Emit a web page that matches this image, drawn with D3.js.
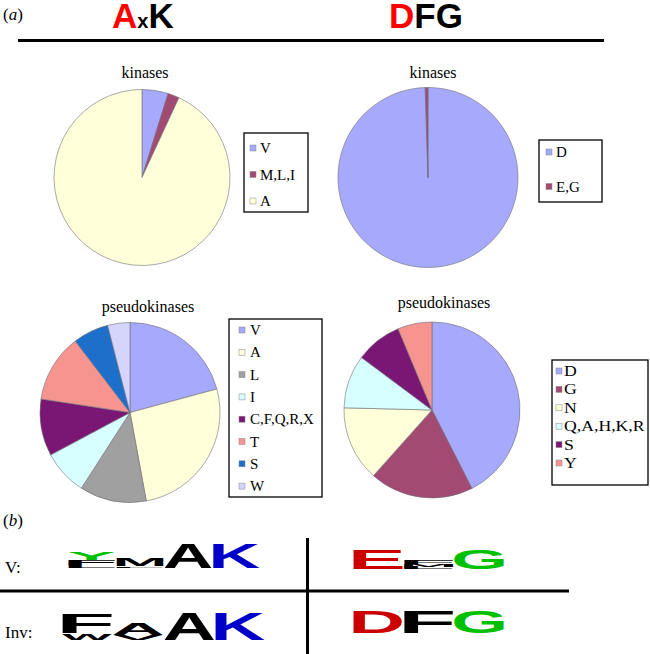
<!DOCTYPE html>
<html><head><meta charset="utf-8">
<script src="https://cdn.jsdelivr.net/npm/d3@7"></script>
<style>body{margin:0;background:#fff}svg{display:block}</style>
</head><body>
<svg id="c" width="650" height="654"></svg>
<script>
// ---------- data ----------
const axkKinLabels = ["V", "M,L,I", "A"];
const axkKinValues = [4.8, 2.1, 93.1];
const dfgKinLabels = ["D", "E,G"];
const dfgKinValues = [99.5, 0.5];
const axkPseudoLabels = ["V", "A", "L", "I", "C,F,Q,R,X", "T", "S", "W"];
const axkPseudoValues = [20.8, 26.3, 12.0, 8.1, 10.2, 12.2, 6.4, 4.0];
const dfgPseudoLabels = ["D", "G", "N", "Q,A,H,K,R", "S", "Y"];
const dfgPseudoValues = [42.5, 19.1, 13.8, 9.8, 8.5, 6.3];

// sequence logos: columns, each a stack [letter, bits] from bottom to top
const logoRowLabels = ["V:", "Inv:"];
const axkLogoV   = [[["L",0.5],["F",0.8],["Y",1.3]], [["L",0.25],["M",1.15]], [["A",3.9]], [["K",3.9]]];
const axkLogoInv = [[["W",1.1],["F",3.2]], [["V",0.8],["A",1.8]], [["A",4.35]], [["K",4.35]]];
const dfgLogoV   = [[["E",3.1]], [["L",0.4],["M",0.45],["F",0.6]], [["G",3.1]]];
const dfgLogoInv = [[["D",3.55]], [["F",3.55]], [["G",3.55]]];

// ---------- styles ----------
const sliceColors = {
  "V":"#a6a9fc","M,L,I":"#a34a73","A":"#ffffd9","D":"#a6a9fc","E,G":"#a34a73",
  "L":"#a0a0a0","I":"#d7ffff","C,F,Q,R,X":"#7a1774","T":"#f69490","S":"#1e6fca","W":"#d5d5fb"
};
const pseudoDfgColors = {"D":"#a6a9fc","G":"#a34a73","N":"#ffffd9","Q,A,H,K,R":"#d7ffff","S":"#7a1774","Y":"#f69490"};
const logoColors = {A:"#000",K:"#0000c8",Y:"#00c000",E:"#cc0000",D:"#cc0000",G:"#00c000",F:"#000",M:"#000",L:"#000",W:"#000",V:"#000"};

const svg = d3.select("#c");
const serif = '"Liberation Serif","Times New Roman",serif';
const sans = '"Liberation Sans",Arial,sans-serif';

// ---------- header ----------
svg.append("text").attr("x",3).attr("y",20).attr("font-family",serif).attr("font-size",17)
  .html('(<tspan font-style="italic">a</tspan>)');
function header(x, parts){
  const t = svg.append("text").attr("x",x).attr("y",28).attr("font-family",sans).attr("font-weight","bold");
  parts.forEach(p => t.append("tspan").text(p[0]).attr("fill",p[1]).attr("font-size",p[2]));
}
header(112, [["A","#ff0000",35],["x","#000",20],["K","#000",35]]);
header(389, [["D","#ff0000",35],["F","#000",35],["G","#000",35]]);
svg.append("line").attr("x1",18).attr("x2",604).attr("y1",40.5).attr("y2",40.5).attr("stroke","#000").attr("stroke-width",3);

// ---------- pies ----------
function drawPie(o){
  const g = svg.append("g").attr("transform",`translate(${o.cx},${o.cy})`);
  const data = o.labels.map((l,i)=>({label:l, value:o.values[i]}));
  const pie = d3.pie().sort(null).value(d=>d.value);
  const arc = d3.arc().innerRadius(0).outerRadius(o.r);
  g.selectAll("path").data(pie(data)).join("path")
    .attr("d",arc).attr("fill",d=>o.colors[d.data.label])
    .attr("stroke","#6e6e78").attr("stroke-width",0.6);
  svg.append("text").attr("x",o.tx).attr("y",o.ty).attr("text-anchor","middle")
    .attr("font-family",serif).attr("font-size",16).text(o.title);
  const L = o.legend;
  svg.append("rect").attr("x",L.x).attr("y",L.y).attr("width",L.w).attr("height",L.h)
    .attr("fill","#fff").attr("stroke","#000").attr("stroke-width",1.3);
  const items = svg.append("g");
  const sx = L.sx || 1;
  data.forEach((d,i)=>{
    const yc = L.first + i*L.step;
    items.append("rect").attr("x",L.mx).attr("y",yc-3).attr("width",6).attr("height",6)
      .attr("fill",o.colors[d.label]).attr("stroke","#888").attr("stroke-width",0.5);
    items.append("text").attr("transform",`translate(${L.tx},${yc+5}) scale(${sx},1)`)
      .attr("font-family",serif).attr("font-size",15).text(d.label);
  });
}
drawPie({labels:axkKinLabels, values:axkKinValues, colors:sliceColors, cx:142, cy:177.5, r:88,
  title:"kinases", tx:145, ty:78, legend:{x:244,y:133,w:64,h:79,first:148,step:26.5,mx:250,tx:260}});
drawPie({labels:dfgKinLabels, values:dfgKinValues, colors:sliceColors, cx:428, cy:177.5, r:90,
  title:"kinases", tx:433, ty:78, legend:{x:539,y:140,w:63,h:62,first:152,step:34.5,mx:546,tx:556}});
drawPie({labels:axkPseudoLabels, values:axkPseudoValues, colors:sliceColors, cx:130, cy:412.5, r:90,
  title:"pseudokinases", tx:148, ty:312, legend:{x:229,y:319,w:93,h:178,first:330,step:22.3,mx:239,tx:250}});
drawPie({labels:dfgPseudoLabels, values:dfgPseudoValues, colors:pseudoDfgColors, cx:432, cy:410, r:88,
  title:"pseudokinases", tx:444, ty:308, legend:{x:552,y:360,w:96,h:125,first:371,step:18.4,mx:556,tx:564,sx:1.18}});

// ---------- (b) sequence logos ----------
svg.append("text").attr("x",3).attr("y",526).attr("font-family",serif).attr("font-size",17)
  .html('(<tspan font-style="italic">b</tspan>)');
svg.append("text").attr("x",5).attr("y",573).attr("font-family",serif).attr("font-size",17).text(logoRowLabels[0]);
svg.append("text").attr("x",5).attr("y",638).attr("font-family",serif).attr("font-size",17).text(logoRowLabels[1]);
svg.append("line").attr("x1",0).attr("x2",569).attr("y1",591).attr("y2",591).attr("stroke","#000").attr("stroke-width",3);
svg.append("line").attr("x1",307.5).attr("x2",307.5).attr("y1",538).attr("y2",654).attr("stroke","#000").attr("stroke-width",3);

const ctx = document.createElement("canvas").getContext("2d");
ctx.font = 'bold 100px "Liberation Sans"';
function glyph(ch){ const m = ctx.measureText(ch);
  return {l:m.actualBoundingBoxLeft, r:m.actualBoundingBoxRight, a:m.actualBoundingBoxAscent, d:m.actualBoundingBoxDescent}; }
const bitScale = d3.scaleLinear().domain([0, 4.32]).range([0, 26.8]);
function drawLogo(cols, x0, colW, baseline){
  const xs = d3.scaleBand().domain(d3.range(cols.length)).range([x0, x0 + colW*cols.length]).paddingInner(0.02);
  const g = svg.append("g");
  cols.forEach((stack,i)=>{
    let y = baseline;
    stack.forEach(([ch,bits])=>{
      const h = bitScale(bits);
      const gb = glyph(ch);
      const w = xs.bandwidth();
      const sx = w/(gb.l+gb.r), sy = h/(gb.a+gb.d);
      g.append("text").text(ch).attr("font-family",sans).attr("font-weight","bold").attr("font-size",100)
        .attr("fill",logoColors[ch])
        .attr("transform",`translate(${xs(i)},${y-h}) scale(${sx},${sy}) translate(${gb.l},${gb.a})`);
      y -= h;
    });
  });
}
drawLogo(axkLogoV, 68, 48, 568);
drawLogo(axkLogoInv, 62, 50.8, 640);
drawLogo(dfgLogoV, 353, 50.3, 569);
drawLogo(dfgLogoInv, 353, 50.3, 633);
</script>
</body></html>
